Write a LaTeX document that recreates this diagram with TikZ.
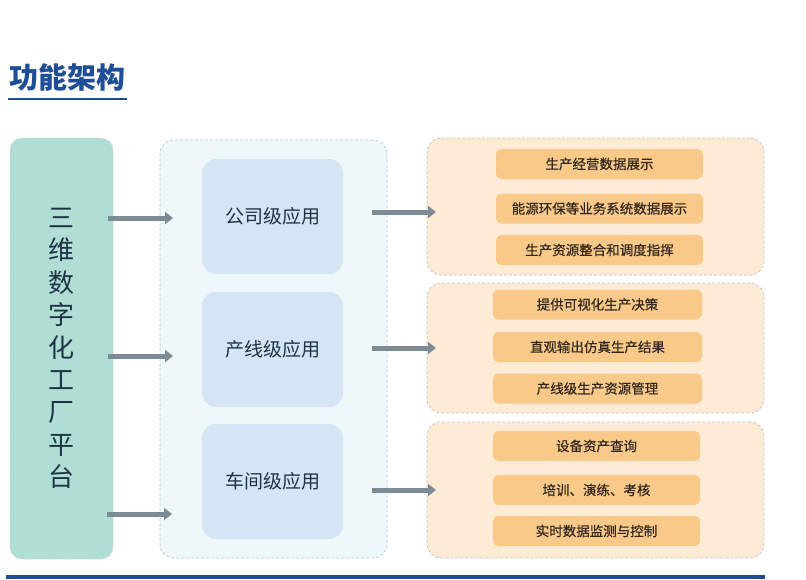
\documentclass[tikz,border=0pt]{standalone}
\usepackage{fontspec}
\setmainfont{Noto Sans CJK SC}
\newfontfamily\medfont[FakeBold=0.5]{Noto Sans CJK SC}
\usetikzlibrary{arrows.meta}
\definecolor{titleblue}{RGB}{31,78,150}
\definecolor{barblue}{RGB}{31,75,153}
\definecolor{platgreen}{RGB}{176,221,212}
\definecolor{appframe}{RGB}{238,247,250}
\definecolor{appblue}{RGB}{213,229,243}
\definecolor{itemframe}{RGB}{253,235,214}
\definecolor{itemorange}{RGB}{249,201,137}
\definecolor{arrowgray}{RGB}{125,139,151}
\definecolor{framegray}{RGB}{192,197,202}
\definecolor{textdark}{RGB}{30,52,70}
\definecolor{itemtext}{RGB}{50,40,30}
\begin{document}
\begin{tikzpicture}[x=1pt,y=-1pt,
  frame/.style={draw=framegray, dash pattern=on 3pt off 2pt, line width=0.7pt, rounded corners=14pt, inner sep=0pt},
  app/.style={fill=appblue, rounded corners=14pt, minimum width=141pt, minimum height=115pt, inner sep=0pt, text=textdark, font=\fontsize{19}{19}\selectfont},
  group/.style={frame, fill=itemframe, minimum width=337pt},
  item/.style={fill=itemorange, rounded corners=5pt, minimum height=30pt, inner sep=0pt, text=itemtext, font=\medfont\fontsize{13.5}{13.5}\selectfont},
  flow/.style={draw=arrowgray, line width=5pt, -{Triangle[length=8pt,width=12pt]}}]
\useasboundingbox (0,0) rectangle (806,579);
% title
\node[anchor=west, inner sep=0pt, text=titleblue, font=\fontsize{29}{29}\selectfont\bfseries] (0) at (9,77) {功能架构};
\draw[titleblue, line width=2pt] (8,99) -- (127,99);
% platform
\node[frame, draw=framegray!70, fill=platgreen, rounded corners=12pt, minimum width=103pt, minimum height=421pt, align=center, text=textdark, font=\fontsize{26}{32.4}\selectfont] (1) at (61.5,348.5) {三\\维\\数\\字\\化\\工\\厂\\平\\台};
% applications
\node[frame, fill=appframe, minimum width=227pt, minimum height=418pt] (2) at (273.5,349) {};
\node[app] (3) at (272.5,216.5) {公司级应用};
\node[app] (4) at (272.5,349.5) {产线级应用};
\node[app] (5) at (272.5,481.5) {车间级应用};
% functions
\node[group, minimum height=137pt] (6) at (595.5,206.5) {};
\node[group, minimum height=130pt] (7) at (595.5,348) {};
\node[group, minimum height=136pt] (8) at (595.5,490) {};
\node[item, minimum width=207pt] (9) at (599.5,164) {生产经营数据展示};
\node[item, minimum width=207pt] (10) at (599.5,208.5) {能源环保等业务系统数据展示};
\node[item, minimum width=207pt] (11) at (599.5,250) {生产资源整合和调度指挥};
\node[item, minimum width=209pt] (12) at (597.5,304.5) {提供可视化生产决策};
\node[item, minimum width=209pt] (13) at (597.5,347) {直观输出仿真生产结果};
\node[item, minimum width=209pt] (14) at (597.5,388.5) {产线级生产资源管理};
\node[item, minimum width=207pt] (15) at (596.5,446) {设备资产查询};
\node[item, minimum width=207pt] (16) at (596.5,490) {培训、演练、考核};
\node[item, minimum width=207pt] (17) at (596.5,531) {实时数据监测与控制};
% arrows
\coordinate (a1) at (173,218);
\coordinate (a2) at (173,356);
\coordinate (a3) at (172,514);
\coordinate (b1) at (436,212);
\coordinate (b2) at (436,348);
\coordinate (b3) at (436,490);
\path[flow, shorten <=-5pt] (1.east |- a1) -- (a1);
\path[flow, shorten <=-5pt] (1.east |- a2) -- (a2);
\path[flow, shorten <=-6pt] (1.east |- a3) -- (a3);
\path[flow, shorten <=-15pt] (2.east |- b1) -- (b1);
\path[flow, shorten <=-15pt] (2.east |- b2) -- (b2);
\path[flow, shorten <=-15pt] (2.east |- b3) -- (b3);
% bottom bar
\fill[barblue] (6,575) rectangle (765,579);
\end{tikzpicture}
\end{document}
